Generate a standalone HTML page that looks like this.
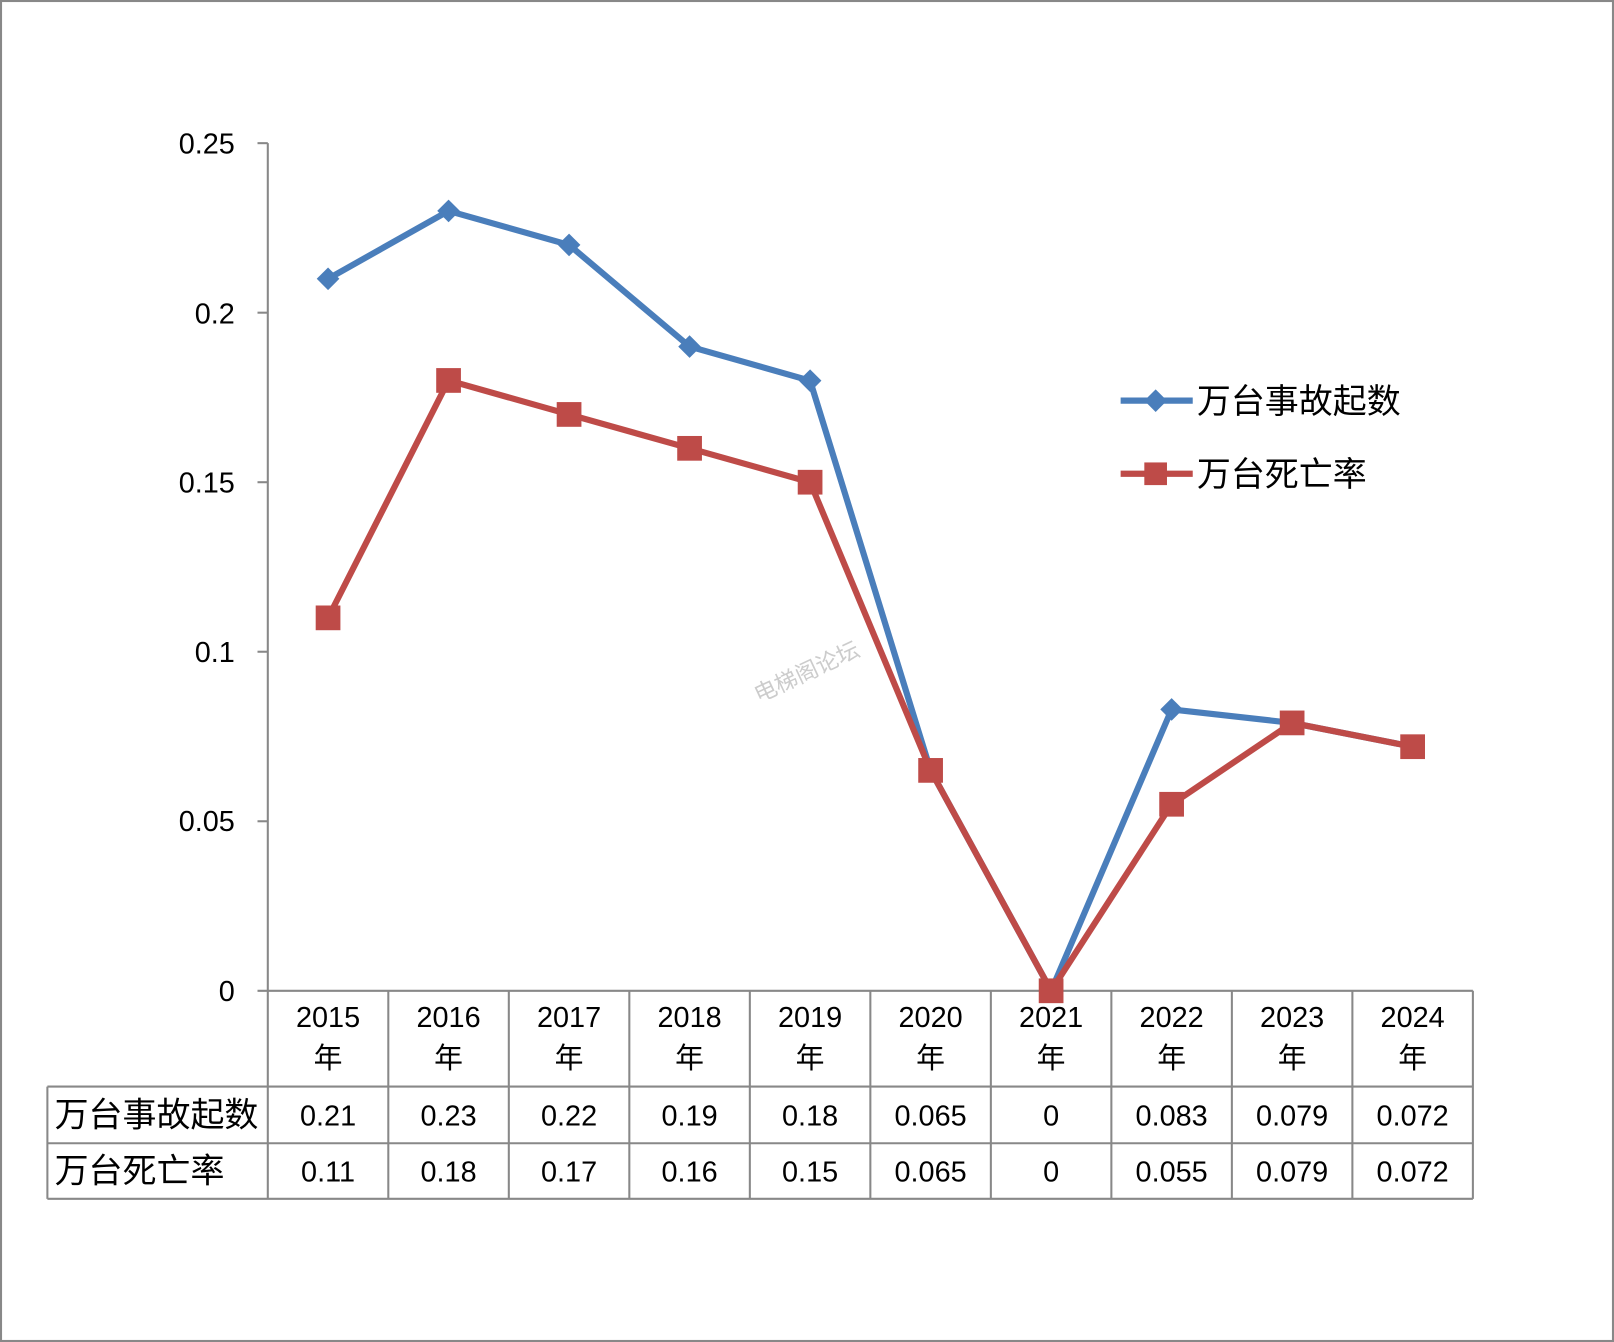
<!DOCTYPE html>
<html><head><meta charset="utf-8"><style>html,body{margin:0;padding:0;background:#fff}svg{display:block}text{font-family:"Liberation Sans","Noto Sans CJK SC",sans-serif;fill:#000}</style></head><body>
<svg width="1614" height="1342" viewBox="0 0 1567 1303" preserveAspectRatio="none" xmlns="http://www.w3.org/2000/svg">
<rect x="1" y="1" width="1565" height="1301" fill="#fff" stroke="#888" stroke-width="2"/>
<g stroke="#888" stroke-width="2" fill="none">
<line x1="260" y1="139" x2="260" y2="1164"/>
<line x1="250" y1="139" x2="260" y2="139"/><line x1="250" y1="303.6" x2="260" y2="303.6"/><line x1="250" y1="468.2" x2="260" y2="468.2"/><line x1="250" y1="632.8" x2="260" y2="632.8"/><line x1="250" y1="797.4" x2="260" y2="797.4"/>
<line x1="250" y1="962" x2="1430" y2="962"/>
<line x1="46" y1="1055" x2="1430" y2="1055"/><line x1="46" y1="1110" x2="1430" y2="1110"/><line x1="46" y1="1164" x2="1430" y2="1164"/>
<line x1="46" y1="1055" x2="46" y2="1164"/>
<line x1="377" y1="962" x2="377" y2="1164"/><line x1="494" y1="962" x2="494" y2="1164"/><line x1="611" y1="962" x2="611" y2="1164"/><line x1="728" y1="962" x2="728" y2="1164"/><line x1="845" y1="962" x2="845" y2="1164"/><line x1="962" y1="962" x2="962" y2="1164"/><line x1="1079" y1="962" x2="1079" y2="1164"/><line x1="1196" y1="962" x2="1196" y2="1164"/><line x1="1313" y1="962" x2="1313" y2="1164"/><line x1="1430" y1="962" x2="1430" y2="1164"/>
</g>
<g font-size="28" text-anchor="end">
<text x="228" y="149">0.25</text><text x="228" y="314">0.2</text><text x="228" y="478">0.15</text><text x="228" y="643">0.1</text><text x="228" y="807">0.05</text><text x="228" y="972">0</text>
</g>
<g font-size="28" text-anchor="middle">
<text x="318.5" y="997">2015</text><text x="435.5" y="997">2016</text><text x="552.5" y="997">2017</text><text x="669.5" y="997">2018</text><text x="786.5" y="997">2019</text><text x="903.5" y="997">2020</text><text x="1020.5" y="997">2021</text><text x="1137.5" y="997">2022</text><text x="1254.5" y="997">2023</text><text x="1371.5" y="997">2024</text>
<text x="318.5" y="1037">年</text><text x="435.5" y="1037">年</text><text x="552.5" y="1037">年</text><text x="669.5" y="1037">年</text><text x="786.5" y="1037">年</text><text x="903.5" y="1037">年</text><text x="1020.5" y="1037">年</text><text x="1137.5" y="1037">年</text><text x="1254.5" y="1037">年</text><text x="1371.5" y="1037">年</text>
<text x="318.5" y="1093">0.21</text><text x="435.5" y="1093">0.23</text><text x="552.5" y="1093">0.22</text><text x="669.5" y="1093">0.19</text><text x="786.5" y="1093">0.18</text><text x="903.5" y="1093">0.065</text><text x="1020.5" y="1093">0</text><text x="1137.5" y="1093">0.083</text><text x="1254.5" y="1093">0.079</text><text x="1371.5" y="1093">0.072</text>
<text x="318.5" y="1147">0.11</text><text x="435.5" y="1147">0.18</text><text x="552.5" y="1147">0.17</text><text x="669.5" y="1147">0.16</text><text x="786.5" y="1147">0.15</text><text x="903.5" y="1147">0.065</text><text x="1020.5" y="1147">0</text><text x="1137.5" y="1147">0.055</text><text x="1254.5" y="1147">0.079</text><text x="1371.5" y="1147">0.072</text>
</g>
<text x="53" y="1094" font-size="33">万台事故起数</text>
<text x="53" y="1148" font-size="33">万台死亡率</text>
<text x="783" y="660" font-size="22" fill="#ccc" style="fill:#ccc" text-anchor="middle" transform="rotate(-25 783 652)">电梯阁论坛</text>
<polyline fill="none" stroke="#4a7ebb" stroke-width="6" stroke-linejoin="round" points="318.5,270.7 435.5,204.8 552.5,237.8 669.5,336.5 786.5,369.6 903.5,748 1020.5,962 1137.5,688.8 1254.5,701.9 1371.5,725"/>
<g fill="#4a7ebb">
<path d="M318.5,259.7l11,11-11,11-11-11z"/><path d="M435.5,193.8l11,11-11,11-11-11z"/><path d="M552.5,226.8l11,11-11,11-11-11z"/><path d="M669.5,325.5l11,11-11,11-11-11z"/><path d="M786.5,358.6l11,11-11,11-11-11z"/><path d="M1137.5,677.8l11,11-11,11-11-11z"/><path d="M1254.5,690.9l11,11-11,11-11-11z"/>
</g>
<polyline fill="none" stroke="#be4b48" stroke-width="6" stroke-linejoin="round" points="318.5,599.9 435.5,369.4 552.5,402.4 669.5,435.3 786.5,468.2 903.5,748 1020.5,962 1137.5,780.9 1254.5,701.9 1371.5,725"/>
<g fill="#be4b48">
<rect x="306.5" y="587.9" width="24" height="24"/><rect x="423.5" y="357.4" width="24" height="24"/><rect x="540.5" y="390.4" width="24" height="24"/><rect x="657.5" y="423.3" width="24" height="24"/><rect x="774.5" y="456.2" width="24" height="24"/><rect x="891.5" y="736" width="24" height="24"/><rect x="1008.5" y="950" width="24" height="24"/><rect x="1125.5" y="768.9" width="24" height="24"/><rect x="1242.5" y="689.9" width="24" height="24"/><rect x="1359.5" y="713" width="24" height="24"/>
</g>
<line x1="1088" y1="389" x2="1158" y2="389" stroke="#4a7ebb" stroke-width="6"/>
<path d="M1122,378l11,11-11,11-11-11z" fill="#4a7ebb"/>
<text x="1162" y="401" font-size="33">万台事故起数</text>
<line x1="1088" y1="460" x2="1158" y2="460" stroke="#be4b48" stroke-width="6"/>
<rect x="1111" y="449" width="22" height="22" fill="#be4b48"/>
<text x="1162" y="472" font-size="33">万台死亡率</text>
</svg>
</body></html>
